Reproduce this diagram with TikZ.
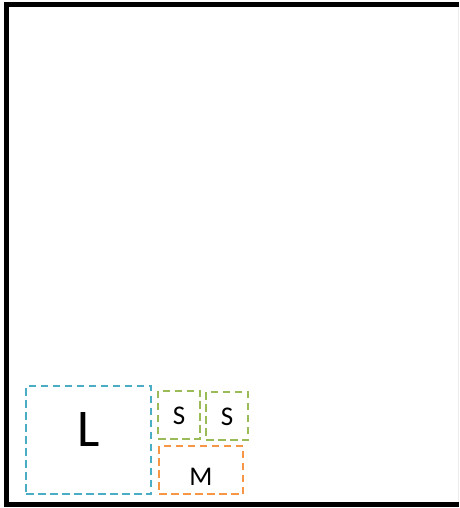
\documentclass[tikz,border=0pt]{standalone}
\usepackage{fontspec}
\setmainfont{Carlito}
\usetikzlibrary{positioning}
\definecolor{boxaqua}{HTML}{4BACC6}
\definecolor{boxgreen}{HTML}{9BBB59}
\definecolor{boxorange}{HTML}{F79646}

\begin{document}
\begin{tikzpicture}[
        x=1pt, y=-1pt,
        region/.style={rectangle, dash pattern=on 7.5pt off 4.5pt, line width=2pt, inner sep=0pt},
        lbox/.style={region, draw=boxaqua, minimum width=125pt, minimum height=108pt},
        sbox/.style={region, draw=boxgreen, minimum width=42pt, minimum height=48pt},
        mbox/.style={region, draw=boxorange, minimum width=84pt, minimum height=48pt},
        lbl/.style={inner sep=0pt, font=\fontsize{27}{30}\selectfont},
      ]
        \useasboundingbox (0,0) rectangle (459,508);

        % Frame
        \draw[gray!15, line width=0.8pt] (458.5,7) -- (458.5,502);
        \draw[line width=5pt] (459,4.5) -- (6.5,4.5) -- (6.5,504.5) -- (459,504.5);

        % Boxes
        \node[lbox] (large) at (88.5,440) {};
        \node[sbox] (small1) at (179,414.5) {};
        \node[sbox] (small2) at (227,416) {};
        \node[mbox] (medium) at (201,470) {};

        % Labels
        \node[lbl, font=\fontsize{53}{58}\selectfont] (tl) at ([yshift=11pt]large.center) {L};
        \node[lbl] (ts1) at ([yshift=-1.5pt]small1.center) {S};
        \node[lbl] (ts2) at ([yshift=-1pt]small2.center) {S};
        \node[lbl] (tm) at ([yshift=-7pt]medium.center) {M};
      \end{tikzpicture}
\end{document}
